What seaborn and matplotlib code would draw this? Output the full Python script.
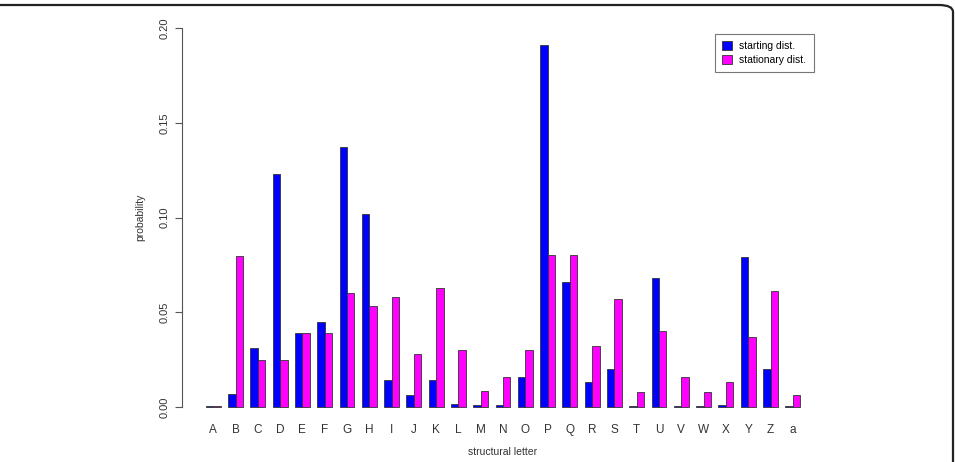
import matplotlib
matplotlib.use("Agg")
import matplotlib.pyplot as plt
import seaborn as sns
import pandas as pd
from matplotlib.patches import FancyBboxPatch, Patch

letters = ["A", "B", "C", "D", "E", "F", "G", "H", "I", "J", "K", "L", "M", "N",
           "O", "P", "Q", "R", "S", "T", "U", "V", "W", "X", "Y", "Z", "a"]
starting = [0.0002, 0.0069, 0.031, 0.123, 0.039, 0.045, 0.137, 0.102, 0.014, 0.006,
            0.014, 0.0015, 0.0008, 0.001, 0.016, 0.191, 0.066, 0.013, 0.020, 0.0005,
            0.068, 0.0002, 0.0002, 0.001, 0.079, 0.020, 0.0002]
stationary = [0.0002, 0.0797, 0.025, 0.025, 0.039, 0.039, 0.060, 0.053, 0.058, 0.028,
              0.063, 0.030, 0.0085, 0.016, 0.030, 0.080, 0.080, 0.032, 0.057, 0.008,
              0.040, 0.016, 0.008, 0.013, 0.037, 0.061, 0.006]
series = ["starting dist.", "stationary dist."]
yticks = [0.00, 0.05, 0.10, 0.15, 0.20]

df = pd.DataFrame({
    "letter": letters * 2,
    "prob": starting + stationary,
    "dist": [series[0]] * len(letters) + [series[1]] * len(letters),
})

plt.rcParams["font.family"] = ["Liberation Sans", "DejaVu Sans"]

W, H = 955, 462
fig = plt.figure(figsize=(W / 100, H / 100), dpi=100)
ax = fig.add_axes([182 / W, (H - 422) / H, (824 - 182) / W, (422 - 13) / H])

palette = {series[0]: "#0000FF", series[1]: "#FF00FF"}
sns.barplot(data=df, x="letter", y="prob", hue="dist", order=letters,
            hue_order=series, palette=palette, width=2 / 3, gap=0,
            edgecolor="#333333", linewidth=0.6, saturation=1, ax=ax, legend=False)

ax.set_xlim(-1.4, 27.4)
ax.set_ylim(-0.008, 0.208)
for s in ["top", "right", "bottom"]:
    ax.spines[s].set_visible(False)
ax.spines["left"].set_bounds(0, 0.2)
ax.spines["left"].set_color("#555555")
ax.spines["left"].set_linewidth(0.8)
ax.set_yticks(yticks)
ax.set_yticklabels([f"{v:.2f}" for v in yticks], rotation=90, va="center",
                   fontsize=8, color="#333333")
ax.tick_params(axis="y", length=5, width=0.8, color="#555555", pad=4)
ax.tick_params(axis="x", length=0, labelsize=8.5, labelcolor="#333333", pad=1.5)
ax.set_xlabel("structural letter", fontsize=7.5, color="#333333", labelpad=8)
ax.set_ylabel("probability", fontsize=7.5, color="#333333", labelpad=10)
ax.patch.set_alpha(0)

handles = [Patch(facecolor=palette[s], edgecolor="#333333", linewidth=0.6, label=s) for s in series]
leg = ax.legend(handles=handles, loc="upper left",
                bbox_to_anchor=((715 - 182) / (824 - 182), (422 - 34) / (422 - 13)),
                fontsize=7.5, frameon=True, fancybox=False, edgecolor="#555555",
                handlelength=0.9, handleheight=0.9, handletextpad=0.75, borderpad=0.7,
                labelspacing=0.35, borderaxespad=0)
leg.get_frame().set_linewidth(0.8)

# outer rounded frame (only top and right sides visible)
frame = FancyBboxPatch((-30 / W, -30 / H), (953 + 30) / W, (H - 5 + 30) / H,
                       boxstyle="round,pad=0,rounding_size=0.015",
                       transform=fig.transFigure, fill=False, edgecolor="#222222",
                       linewidth=1.6, clip_on=False)
fig.patches.append(frame)

fig.savefig("out.png", dpi=100)
